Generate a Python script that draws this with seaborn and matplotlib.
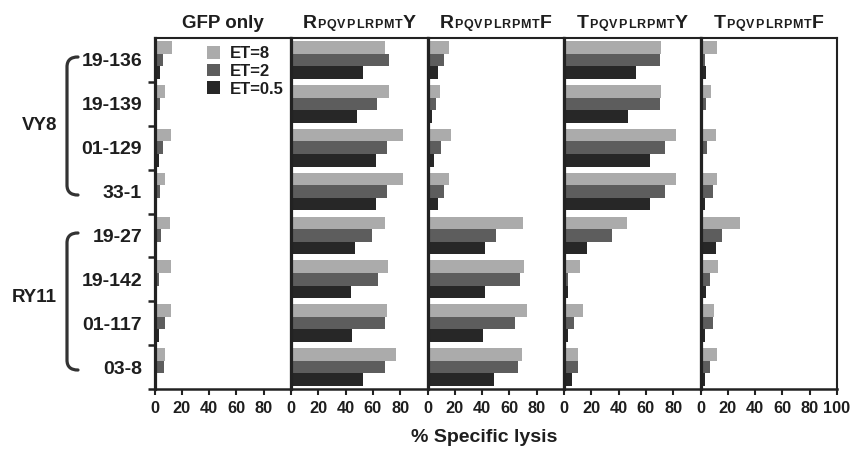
import numpy as np
import pandas as pd
import matplotlib
matplotlib.use("Agg")
import matplotlib.pyplot as plt
import seaborn as sns
from matplotlib.patches import Patch, PathPatch
from matplotlib.path import Path

# ---------------- data ----------------
clones = ["19-136", "19-139", "01-129", "33-1", "19-27", "19-142", "01-117", "03-8"]
group_names = ["VY8", "RY11"]
et_levels = ["ET=8", "ET=2", "ET=0.5"]
x_ticks_main = [0, 20, 40, 60, 80]
x_ticks_last = [0, 20, 40, 60, 80, 100]

gfp_et8 = [13, 8, 12, 8, 11, 12, 12, 8]
gfp_et2 = [6, 4, 6, 4, 5, 3, 8, 7]
gfp_et05 = [4, 2, 3, 2, 1, 1, 3, 2]

ry_et8 = [69, 72, 82, 82, 69, 71, 70, 77]
ry_et2 = [72, 63, 70, 70, 59, 64, 69, 69]
ry_et05 = [53, 48, 62, 62, 47, 44, 45, 53]

rf_et8 = [16, 9, 17, 16, 70, 71, 73, 69]
rf_et2 = [12, 6, 10, 12, 50, 68, 64, 66]
rf_et05 = [8, 3, 5, 8, 42, 42, 41, 49]

ty_et8 = [71, 71, 82, 82, 46, 12, 14, 10]
ty_et2 = [70, 70, 74, 74, 35, 3, 7, 10]
ty_et05 = [53, 47, 63, 63, 17, 3, 3, 6]

tf_et8 = [12, 8, 11, 12, 29, 13, 10, 12]
tf_et2 = [3, 4, 5, 9, 16, 7, 9, 7]
tf_et05 = [4, 2, 2, 3, 11, 4, 3, 3]

panels = [
    ("GFP only", (gfp_et8, gfp_et2, gfp_et05)),
    ("R|PQVPLRPMT|Y", (ry_et8, ry_et2, ry_et05)),
    ("R|PQVPLRPMT|F", (rf_et8, rf_et2, rf_et05)),
    ("T|PQVPLRPMT|Y", (ty_et8, ty_et2, ty_et05)),
    ("T|PQVPLRPMT|F", (tf_et8, tf_et2, tf_et05)),
]
xlabel = "% Specific lysis"

colors = ["#ababab", "#5d5d5d", "#272727"]

# ---------------- style ----------------
sns.set_theme(style="white")
plt.rcParams["font.family"] = ["Liberation Sans", "DejaVu Sans"]
plt.rcParams["font.weight"] = "bold"

W, H = 855, 451
fig = plt.figure(figsize=(W / 100, H / 100), dpi=100)
fig.patch.set_facecolor("white")

x0, pw = 154.5, 136.5
ytop, ybot = 38, 389
spine_col = "#222222"
text_col = "#1e1e1e"

axes = []
for i, (title, vals) in enumerate(panels):
    ax = fig.add_axes([(x0 + i * pw) / W, 1 - ybot / H, pw / W, (ybot - ytop) / H])
    ax.set_facecolor("none")
    rows = []
    for lvl, series in zip(et_levels, vals):
        for c, v in zip(clones, series):
            rows.append({"clone": c, "ET": lvl, "lysis": v})
    df = pd.DataFrame(rows)
    sns.barplot(data=df, y="clone", x="lysis", hue="ET", order=clones,
                hue_order=et_levels, palette=colors, saturation=1,
                orient="h", width=0.86, ax=ax, legend=False,
                linewidth=0, edgecolor="none", errorbar=None)
    ax.set_xlim(0, 100)
    ax.set_ylim(7.5, -0.5)
    ax.set_xlabel("")
    ax.set_ylabel("")
    for side in ["top", "right"]:
        ax.spines[side].set_visible(True)
        ax.spines[side].set_linewidth(1.5)
        ax.spines[side].set_color(spine_col)
    ax.spines["left"].set_linewidth(2.3)
    ax.spines["left"].set_color(spine_col)
    ax.spines["bottom"].set_linewidth(1.8)
    ax.spines["bottom"].set_color(spine_col)
    ax.set_xticks(x_ticks_last if i == 4 else x_ticks_main)
    ax.tick_params(axis="x", direction="out", length=4.5, width=1.5,
                   color=spine_col, labelsize=11.8, pad=4, bottom=True,
                   labelcolor=text_col)
    for lab in ax.get_xticklabels():
        lab.set_fontweight("bold")
    if i == 0:
        ax.set_yticks(range(len(clones)))
        ax.set_yticklabels(clones, fontsize=14, fontweight="bold", color=text_col)
        ax.tick_params(axis="y", which="major", length=0, pad=9, left=True)
        ax.set_yticks(np.arange(0.5, 8, 1.0), minor=True)
        ax.tick_params(axis="y", which="minor", direction="out", length=5,
                       width=1.8, color=spine_col, left=True)
    else:
        ax.set_yticks([])
    axes.append(ax)

# legend in first panel
handles = [Patch(facecolor=c, edgecolor="none") for c in colors]
leg = axes[0].legend(handles, et_levels, loc="upper left",
                     bbox_to_anchor=((207 - x0) / pw, (ybot - 46) / (ybot - ytop)),
                     frameon=False, handlelength=0.8, handleheight=0.8,
                     handletextpad=0.55, labelspacing=0.15, borderpad=0,
                     borderaxespad=0, prop={"weight": "bold", "size": 12})
for t in leg.get_texts():
    t.set_color(text_col)

# titles (small-caps style for peptide names)
fig.canvas.draw()
renderer = fig.canvas.get_renderer()
base_y = 1 - 28 / H
for i, (title, vals) in enumerate(panels):
    if "|" not in title:
        parts = [(title, 13.5, 0)]
    else:
        a, mid, b = title.split("|")
        parts = ([(a, 14, 0)] + [(ch, 9, 0.9 if k else 0.6) for k, ch in enumerate(mid)]
                 + [(b, 14, 0.6)])
    texts = []
    xpix = 0.0
    for s, size, gap in parts:
        xpix += gap
        t = fig.text(xpix / W, base_y, s, fontsize=size, fontweight="bold",
                     ha="left", va="baseline", color=text_col)
        bb = t.get_window_extent(renderer)
        texts.append((t, xpix))
        xpix += bb.width
    center = x0 + i * pw + pw / 2
    start = center - xpix / 2
    for t, xp in texts:
        t.set_x((start + xp) / W)

# x label
fig.text(484 / W, 1 - 437 / H, xlabel, ha="center", va="center",
         fontsize=14, fontweight="bold", color=text_col)

# group labels and brackets
group_spans = [(57, 195, 126), (233, 370, 298)]
for name, (top, bot, yc) in zip(group_names, group_spans):
    fig.text(57 / W, 1 - yc / H, name, ha="right", va="center",
             fontsize=13.5, fontweight="bold", color=text_col)
    pts = [(78, top), (71, top), (67, top + 3), (67, top + 10),
           (67, bot - 10),
           (67, bot - 3), (71, bot), (78, bot)]
    codes = [Path.MOVETO, Path.CURVE4, Path.CURVE4, Path.CURVE4,
             Path.LINETO, Path.CURVE4, Path.CURVE4, Path.CURVE4]
    verts = [(x / W, 1 - y / H) for x, y in pts]
    patch = PathPatch(Path(verts, codes), transform=fig.transFigure,
                      facecolor="none", edgecolor="#333333", linewidth=2.3,
                      capstyle="round")
    fig.patches.append(patch)

fig.savefig("out.png", dpi=100, facecolor="white")
